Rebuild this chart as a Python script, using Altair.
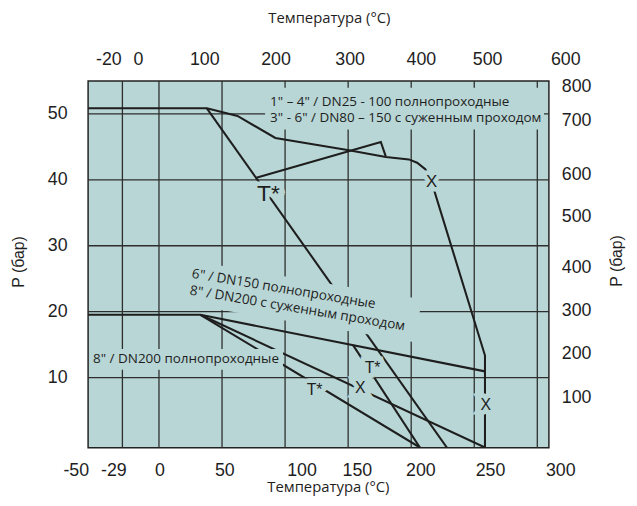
import altair as alt
import pandas as pd

# ---------------- tick labels ----------------
BOTTOM_TICKS = [-50, -29, 0, 50, 100, 150, 200, 250, 300]      # °C
TOP_TICKS = [-20, 0, 100, 200, 300, 400, 500, 600]             # °F
LEFT_TICKS = [10, 20, 30, 40, 50]                              # bar
RIGHT_TICKS = [100, 200, 300, 400, 500, 600, 700, 800]         # psi
GRID_T = [-29, 0, 50, 100, 150, 200, 250, 300]
GRID_P = [10, 20, 30, 40, 50]

# ---------------- curves (°C, bar) ----------------
A_MAIN_T = [-52.3, 38.0, 61.3, 90.1, 146.0, 174.1, 191.6, 197.9, 204.1, 209.0, 249.5, 249.5]
A_MAIN_P = [50.85, 50.85, 49.7, 46.35, 44.5, 43.45, 43.1, 42.6, 41.6, 39.6, 13.35, -0.6]
A_TSTAR_T = [38.0, 220.5]
A_TSTAR_P = [50.85, -0.6]
A_RED_T = [75.6, 170.3, 174.1]
A_RED_P = [40.3, 45.75, 43.53]
B_MAIN_T = [-52.3, 33.1, 249.5]
B_MAIN_P = [19.53, 19.53, 10.95]
B_X_T = [33.1, 249.5]
B_X_P = [19.53, -0.6]
B_TSTAR_T = [33.1, 200.0]
B_TSTAR_P = [19.53, -0.6]
B_RED_T = [149.2, 200.0]
B_RED_P = [14.92, -0.6]

# ---------------- point markers ----------------
MARK_TEXT = ["T*", "X", "X", "X", "T*", "T*"]
MARK_T = [84.8, 209.0, 250.0, 154.7, 164.0, 119.9]
MARK_P = [37.83, 39.63, 5.84, 8.35, 11.45, 8.13]
MARK_FS = [23, 17, 16, 16, 16, 16]

# ---------------- annotations ----------------
NOTE_TEXT = ['1" \u2013 4" / DN25 - 100 полнопроходные',
             '3" - 6" / DN80 \u2013 150 с суженным проходом',
             '8" / DN200 полнопроходные']
NOTE_T = [86.1, 86.1, -48.5]
NOTE_P = [51.85, 49.38, 12.85]
ROT_TEXT = ['6" / DN150 полнопроходные', '8" / DN200 с суженным проходом']
ROT_T = [26.7, 25.2]
ROT_P = [25.75, 23.2]
BOX_T1 = [82.3, -50.0]
BOX_T2 = [294.4, 95.9]
BOX_P1 = [53.95, 14.35]
BOX_P2 = [47.65, 11.2]
ROTBOX_T = [110.5]
ROTBOX_P = [21.57]

TITLE_T = "Температура (°C)"
TITLE_P = "P (бар)"

# ---------------- layout (pixels, relative to plot area) ----------------
BOTTOM_PX = [-12, 26, 72.6, 138.3, 216.3, 272.3, 336.5, 407, 478]
TOP_PX = [21, 51, 118, 190, 265, 337, 404, 483]
RIGHT_PX = [321, 276, 232.7, 189.3, 137.7, 95, 40.3, 6]

BG = "#b8d6d5"
INK = "#1e1e1e"
GRIDC = "#2e2e2e"
NUMFONT = "Liberation Sans"
TXTFONT = "Open Sans"

X_CURVE = [-52.3, 298.1]
X_GRID = [-56.2, 309.2]
Y_DOM = [-0.645, 55.0]


def ys():
    return alt.Scale(domain=Y_DOM, nice=False, zero=False)


def xcs():
    return alt.Scale(domain=X_CURVE, nice=False, zero=False)


def poly(name, ts, ps):
    return [{"id": name, "i": i, "t": t, "bar": p} for i, (t, p) in enumerate(zip(ts, ps))]


rows = (poly("a_main", A_MAIN_T, A_MAIN_P) + poly("a_t", A_TSTAR_T, A_TSTAR_P)
        + poly("a_red", A_RED_T, A_RED_P) + poly("b_main", B_MAIN_T, B_MAIN_P)
        + poly("b_x", B_X_T, B_X_P) + poly("b_t", B_TSTAR_T, B_TSTAR_P)
        + poly("b_red", B_RED_T, B_RED_P))
curves_df = pd.DataFrame(rows)

# grid
grid_v = alt.Chart(pd.DataFrame({"t": GRID_T})).mark_rule(color=GRIDC, strokeWidth=1.3).encode(
    x=alt.X("t:Q", scale=alt.Scale(domain=X_GRID, nice=False, zero=False), axis=None))
grid_h = alt.Chart(pd.DataFrame({"bar": GRID_P})).mark_rule(color=GRIDC, strokeWidth=1.3).encode(
    y=alt.Y("bar:Q", scale=ys(), axis=None))

curves = alt.Chart(curves_df).mark_line(color=INK, strokeWidth=2.1, clip=True).encode(
    x=alt.X("t:Q", scale=xcs(), axis=None),
    y=alt.Y("bar:Q", scale=ys(), axis=None),
    detail="id:N", order="i:Q")

boxes = alt.Chart(pd.DataFrame({"t": BOX_T1, "t2": BOX_T2, "bar": BOX_P1, "bar2": BOX_P2})).mark_rect(
    color=BG, opacity=1).encode(
    x=alt.X("t:Q", scale=xcs(), axis=None), x2="t2:Q",
    y=alt.Y("bar:Q", scale=ys(), axis=None), y2="bar2:Q")

rotbox = alt.Chart(pd.DataFrame({"t": ROTBOX_T, "bar": ROTBOX_P})).mark_point(
    shape="M-1,-0.185L1,-0.185L1,0.185L-1,0.185Z", size=56644, angle=9.5,
    filled=True, color=BG, opacity=1, strokeWidth=0).encode(
    x=alt.X("t:Q", scale=xcs(), axis=None), y=alt.Y("bar:Q", scale=ys(), axis=None))

notes = alt.Chart(pd.DataFrame({"t": NOTE_T, "bar": NOTE_P, "txt": NOTE_TEXT})).mark_text(
    align="left", baseline="middle", font=TXTFONT, fontSize=13.6, color=INK).encode(
    x=alt.X("t:Q", scale=xcs(), axis=None), y=alt.Y("bar:Q", scale=ys(), axis=None), text="txt:N")

rot_notes = alt.Chart(pd.DataFrame({"t": ROT_T, "bar": ROT_P, "txt": ROT_TEXT})).mark_text(
    align="left", baseline="middle", font=TXTFONT, fontSize=13.6, color=INK, angle=9.5).encode(
    x=alt.X("t:Q", scale=xcs(), axis=None), y=alt.Y("bar:Q", scale=ys(), axis=None), text="txt:N")

mark_df = pd.DataFrame({"t": MARK_T, "bar": MARK_P, "txt": MARK_TEXT, "fs": MARK_FS})
halo = alt.Chart(mark_df).mark_text(font=NUMFONT, baseline="middle", fill=BG, stroke=BG,
                                     strokeWidth=9).encode(
    x=alt.X("t:Q", scale=xcs(), axis=None), y=alt.Y("bar:Q", scale=ys(), axis=None),
    text="txt:N", size=alt.Size("fs:Q", scale=None, legend=None))
marks = alt.Chart(mark_df).mark_text(font=NUMFONT, baseline="middle", color=INK).encode(
    x=alt.X("t:Q", scale=xcs(), axis=None), y=alt.Y("bar:Q", scale=ys(), axis=None),
    text="txt:N", size=alt.Size("fs:Q", scale=None, legend=None))

inner = alt.layer(curves, boxes, rotbox, halo, marks, notes, rot_notes)

bottom_labels = alt.Chart(pd.DataFrame({"t": BOTTOM_TICKS, "txt": [str(v) for v in BOTTOM_TICKS]})).mark_text(
    font=NUMFONT, fontSize=18, baseline="middle", color=INK).encode(
    x=alt.X("t:Q", scale=alt.Scale(domain=BOTTOM_TICKS, range=BOTTOM_PX), axis=None),
    y=alt.value(394.5), text="txt:N")

top_labels = alt.Chart(pd.DataFrame({"f": TOP_TICKS, "txt": [str(v) for v in TOP_TICKS]})).mark_text(
    font=NUMFONT, fontSize=18, baseline="middle", color=INK).encode(
    x=alt.X("f:Q", scale=alt.Scale(domain=TOP_TICKS, range=TOP_PX), axis=None),
    y=alt.value(-21.5), text="txt:N")

left_labels = alt.Chart(pd.DataFrame({"bar": LEFT_TICKS, "txt": [str(v) for v in LEFT_TICKS]})).mark_text(
    font=NUMFONT, fontSize=18, baseline="middle", align="right", color=INK).encode(
    y=alt.Y("bar:Q", scale=ys(), axis=None), x=alt.value(-20.7), text="txt:N")

right_labels = alt.Chart(pd.DataFrame({"psi": RIGHT_TICKS, "txt": [str(v) for v in RIGHT_TICKS]})).mark_text(
    font=NUMFONT, fontSize=18, baseline="middle", align="left", color=INK).encode(
    y=alt.Y("psi:Q", scale=alt.Scale(domain=RIGHT_TICKS, range=RIGHT_PX), axis=None),
    x=alt.value(479), text="txt:N")

t_bottom = alt.Chart(pd.DataFrame({"txt": [TITLE_T]})).mark_text(
    font=TXTFONT, fontSize=15, baseline="middle", color=INK).encode(
    x=alt.value(243), y=alt.value(410.5), text="txt:N")
t_top = alt.Chart(pd.DataFrame({"txt": [TITLE_T]})).mark_text(
    font=TXTFONT, fontSize=15, baseline="middle", color=INK).encode(
    x=alt.value(244), y=alt.value(-63.5), text="txt:N")
t_left = alt.Chart(pd.DataFrame({"txt": [TITLE_P]})).mark_text(
    font=NUMFONT, fontSize=16, baseline="middle", angle=270, color=INK).encode(
    x=alt.value(-70), y=alt.value(183), text="txt:N")
t_right = alt.Chart(pd.DataFrame({"txt": [TITLE_P]})).mark_text(
    font=NUMFONT, fontSize=16, baseline="middle", angle=270, color=INK).encode(
    x=alt.value(535), y=alt.value(182), text="txt:N")

chart = alt.layer(grid_v, grid_h, inner, bottom_labels, top_labels, left_labels, right_labels,
                  t_bottom, t_top, t_left, t_right).resolve_scale(
    x="independent", y="independent").properties(
    width=466, height=371,
    autosize=alt.AutoSizeParams(type="none"),
    padding={"left": 81, "top": 71, "right": 81, "bottom": 48},
).configure_view(fill=BG, stroke="#222222", strokeWidth=1.5)

chart.save("out.html", embed_options={"renderer": "svg", "actions": False})
